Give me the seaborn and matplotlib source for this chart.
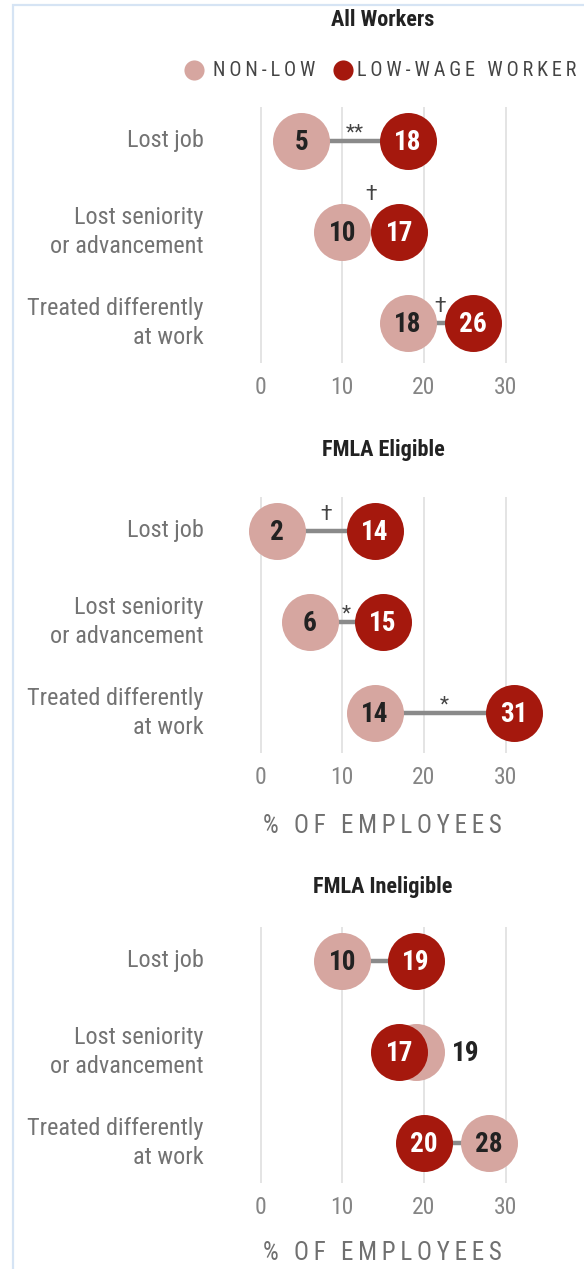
import matplotlib
matplotlib.use("Agg")
import matplotlib.pyplot as plt
from matplotlib import font_manager
from matplotlib.lines import Line2D
from matplotlib.patches import Rectangle
import pandas as pd
import seaborn as sns

# ---- data -------------------------------------------------------------
panel_titles = ["All Workers", "FMLA Eligible", "FMLA Ineligible"]
categories = ["Lost job", "Lost seniority\nor advancement", "Treated differently\nat work"]

non_low_all = [5, 10, 18]
low_wage_all = [18, 17, 26]
sig_all = ["**", "\u2020", "\u2020"]

non_low_eligible = [2, 6, 14]
low_wage_eligible = [14, 15, 31]
sig_eligible = ["\u2020", "*", "*"]

non_low_ineligible = [10, 19, 28]
low_wage_ineligible = [19, 17, 20]
sig_ineligible = ["", "", ""]

x_ticks = [0, 10, 20, 30]
legend_labels = ["NON-LOW", "LOW-WAGE WORKER"]
x_label = "% OF EMPLOYEES"

panels = [
    (panel_titles[0], non_low_all, low_wage_all, sig_all, False),
    (panel_titles[1], non_low_eligible, low_wage_eligible, sig_eligible, True),
    (panel_titles[2], non_low_ineligible, low_wage_ineligible, sig_ineligible, True),
]

# ---- style ------------------------------------------------------------
sns.set_theme(style="white")
available = {f.name for f in font_manager.fontManager.ttflist}


def pick(*names):
    for n in names:
        if n in available:
            return n
    return "DejaVu Sans"


COND = pick("Roboto Condensed", "Barlow Semi Condensed", "Sofia Sans Condensed", "Roboto")
BODY = pick("Roboto", "Open Sans", "DejaVu Sans")
plt.rcParams["font.family"] = [COND, "DejaVu Sans"]

PINK = "#D6A6A0"
RED = "#A5180D"
LINE = "#8a8a8a"
GRID = "#e2e2e2"

W, H = 584, 1269
fig = plt.figure(figsize=(W / 100, H / 100), dpi=100)
fig.patch.set_facecolor("white")


def tracked(s):
    return "\u2009".join(s)


def fy(px):
    return 1 - px / H


# frame around the graphic
fig.add_artist(Rectangle((13 / W, -0.02), 1.2, 1.02 - 5 / H, transform=fig.transFigure,
                         fill=False, edgecolor="#d6e4f4", lw=1.6))

# ---- layout -----------------------------------------------------------
ZERO_PX = 260.5          # pixel position of x = 0
UNIT = 8.17              # pixels per percentage point
XLIM = (-3, 37)
AX_LEFT = ZERO_PX + XLIM[0] * UNIT
AX_W = (XLIM[1] - XLIM[0]) * UNIT
AX_H = 256
ax_tops = [107, 497, 927]
title_y = [20, 450, 887]
xlabel_y = [None, 826, 1253]
DIAM_PX = 57
S = (DIAM_PX * 0.72) ** 2
VAL_SIZE = 19.5
VAL_DROP = -6.9          # baseline shift that centres the digits on the marker

for i, (title, nl, lw, sig, show_xlabel) in enumerate(panels):
    top = ax_tops[i]
    ax = fig.add_axes([AX_LEFT / W, fy(top + AX_H), AX_W / W, AX_H / H])
    ax.set_xlim(*XLIM)
    ax.set_ylim(2.44, -0.37)
    for sp in ax.spines.values():
        sp.set_visible(False)
    ax.set_xticks(x_ticks)
    ax.set_xticklabels([str(t) for t in x_ticks])
    ax.set_yticks([])
    ax.tick_params(axis="x", length=0, pad=9, labelsize=17, labelcolor="#858585")
    ax.grid(axis="x", color=GRID, lw=1.3)
    ax.set_axisbelow(True)

    rows = list(range(len(categories)))
    df_nl = pd.DataFrame({"value": nl, "row": rows})
    df_lw = pd.DataFrame({"value": lw, "row": rows})

    ax.hlines(rows, nl, lw, color=LINE, lw=3.2, zorder=1)
    sns.scatterplot(data=df_nl, x="value", y="row", color=PINK, s=S, linewidth=0,
                    legend=False, ax=ax, zorder=2)
    sns.scatterplot(data=df_lw, x="value", y="row", color=RED, s=S, linewidth=0,
                    legend=False, ax=ax, zorder=3)
    ax.set_xlabel("")
    ax.set_ylabel("")

    for r, a, b, mark, cat in zip(rows, nl, lw, sig, categories):
        ax.text(-6.92, r, cat, ha="right", va="center", multialignment="right",
                fontsize=17.5, color="#737373", linespacing=1.33)
        # value labels
        ax.annotate(str(b), (b, r), xytext=(0, VAL_DROP), textcoords="offset points",
                    ha="center", va="baseline", fontsize=VAL_SIZE, fontweight="bold",
                    color="white", zorder=5)
        hidden = abs(a - b) < 4
        if hidden:
            side = 1 if a > b else -1
            ax.annotate(str(a), (a, r), xytext=(side * 26, VAL_DROP), textcoords="offset points",
                        ha="left" if side > 0 else "right", va="baseline", fontsize=VAL_SIZE,
                        fontweight="bold", color="#222222", zorder=5)
        else:
            ax.annotate(str(a), (a, r), xytext=(0, VAL_DROP), textcoords="offset points",
                        ha="center", va="baseline", fontsize=VAL_SIZE, fontweight="bold",
                        color="#222222", zorder=4)
        # significance markers
        if mark:
            gap_px = abs(b - a) * UNIT - DIAM_PX
            lift = 1.8 if "*" in mark else 8.0
            if gap_px < 4:
                lift += 15
            ax.annotate(mark, ((a + b) / 2, r), xytext=(0, lift), textcoords="offset points",
                        ha="center", va="baseline", fontsize=15, color="#444444",
                        family=[BODY, "DejaVu Sans"], zorder=6)

    fig.text(383 / W, fy(title_y[i]), title, ha="center", va="center", fontsize=16,
             fontweight="bold", color="#222222")
    if show_xlabel:
        fig.text(382 / W, fy(xlabel_y[i]), tracked(x_label), ha="center", va="center",
                 fontsize=18, color="#707070", family=[COND, "DejaVu Sans"])

# ---- legend -----------------------------------------------------------
leg_y = fy(70)
for cx, tx, col, lab in [(194, 213, PINK, legend_labels[0]), (343, 357, RED, legend_labels[1])]:
    fig.add_artist(Line2D([cx / W], [leg_y], marker="o", markersize=14.5, color=col,
                          markeredgewidth=0, linestyle="none", transform=fig.transFigure))
    fig.text(tx / W, leg_y, tracked(lab), ha="left", va="center", fontsize=14.5,
             color="#444444", family=[COND, "DejaVu Sans"])

fig.savefig("out.png", dpi=100, facecolor="white")
